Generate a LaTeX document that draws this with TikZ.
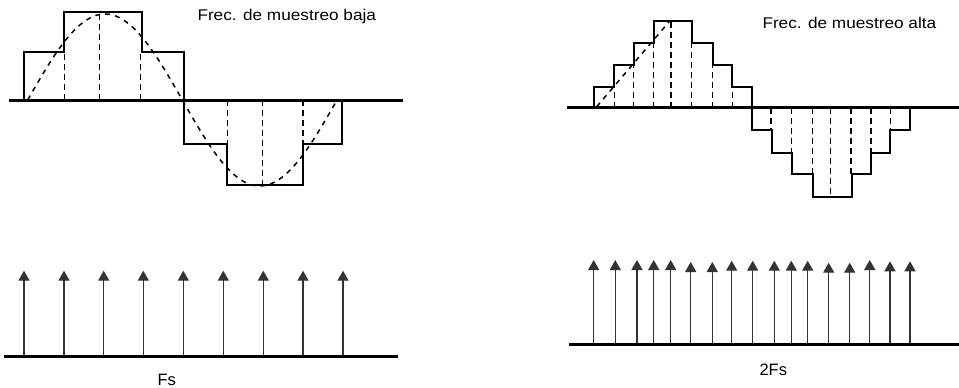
\documentclass[tikz,border=0pt]{standalone}
\usepackage{fontspec}
\setmainfont{Liberation Sans}
\usetikzlibrary{arrows.meta}

\begin{document}
\begin{tikzpicture}[x=1pt,y=-1pt,
  axisline/.style={line width=3pt},
  stair/.style={line width=2.2pt, line join=miter},
  guide/.style={line width=1.5pt, dash pattern=on 6pt off 4pt},
  wave/.style={line width=1.5pt, dash pattern=on 5pt off 5pt},
  impulse/.style={line width=1.4pt, black!80, -{Triangle[length=10pt,width=11pt]}},
  title/.style={anchor=base west, inner sep=0pt, font=\fontsize{15.5}{18}\selectfont},
  rate/.style={anchor=base west, inner sep=0pt, font=\fontsize{16.5}{20}\selectfont}]
\useasboundingbox (0,0) rectangle (959,388);

% ---------- low sampling rate: waveform ----------
\draw[axisline] (9,100) -- (403,100);
\draw[stair] (24.3,100) -- (24.3,52.3) -- (64.3,52.3) -- (64.3,11.7) -- (141.7,11.7)
  -- (141.7,52.3) -- (183.7,52.3) -- (183.7,144.3) -- (227,144.3) -- (227,185)
  -- (303,185) -- (303,144.3) -- (342.3,144.3) -- (342.3,100);
\foreach \x/\y in {64.3/52.3, 99.3/11.7, 140.3/52.3, 227.7/144.3, 262.3/185, 303/144.3}
  \draw[guide] (\x,100) -- (\x,\y);
\draw[wave] plot[domain=0:360, samples=120, smooth] ({27.7+0.85917*\x},{100-86*sin(\x)});
\node[title] (lowtitle) at (197.3,20.7) {\scalebox{1.11}[1]{Frec. de muestreo baja}};

% ---------- high sampling rate: waveform ----------
\draw[axisline] (567,107.7) -- (959,107.7);
\draw[stair] (594.3,107.7) -- (594.3,87.3) -- (614.3,87.3) -- (614.3,65.3) -- (633.7,65.3)
  -- (633.7,43) -- (653.7,43) -- (653.7,21) -- (691.7,21) -- (691.7,43) -- (713,43)
  -- (713,65.3) -- (732.3,65.3) -- (732.3,87.3) -- (751.7,87.3) -- (751.7,130)
  -- (771.7,130) -- (771.7,152.7) -- (791.7,152.7) -- (791.7,174.3) -- (813.3,174.3)
  -- (813.3,196.7) -- (852,196.7) -- (852,174.3) -- (871,174.3) -- (871,152.7)
  -- (890.3,152.7) -- (890.3,130) -- (910,130) -- (910,107.7);
\foreach \x/\y in {614.3/87.3, 633.7/65.3, 653.7/43, 671/21, 691.7/43, 712.3/65.3, 732.3/87.3,
                   771/130, 791.7/152.7, 812.3/174.3, 830.7/196.7, 851/174.3, 871/152.7, 890.3/130}
  \draw[guide] (\x,107.7) -- (\x,\y);
\draw[wave] (596.7,106.7) -- (670,20.7);
\node[title] (hightitle) at (762.3,28.3) {\scalebox{1.11}[1]{Frec. de muestreo alta}};

% ---------- low sampling rate: impulse train ----------
\draw[axisline] (4,356) -- (398,356);
\foreach \x [count=\i] in {24,64,103.7,143.3,183.3,223.3,263.3,303,343} {
  \coordinate (lb\i) at (\x,355);
  \coordinate (lt\i) at (\x,270.7);
  \draw[impulse] (lb\i) -- (lt\i);
}
\node[rate] (fs) at (157.3,385) {Fs};

% ---------- high sampling rate: impulse train ----------
\draw[axisline] (569,344.3) -- (959,344.3);
\foreach \x/\t [count=\i] in {593.7/260, 615.3/260, 637/260, 653.7/260, 670.7/260, 690.7/262,
   712.3/262, 731.7/260.7, 752.7/260.7, 774.3/260.7, 791.3/260.7, 807.7/260.7,
   828.7/262.7, 849.7/262.7, 869.7/260, 890/261.3, 910/261.3} {
  \coordinate (hb\i) at (\x,343.3);
  \coordinate (ht\i) at (\x,\t);
  \draw[impulse] (hb\i) -- (ht\i);
}
\node[rate] (twofs) at (759.3,375) {2Fs};
\end{tikzpicture}
\end{document}
